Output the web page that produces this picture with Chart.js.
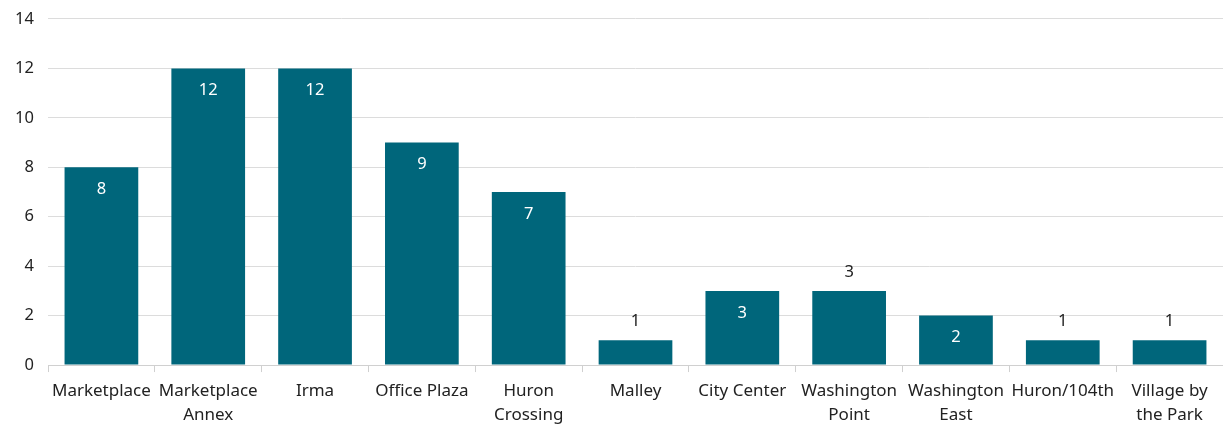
<!DOCTYPE html>
<html>
<head>
<meta charset="utf-8">
<script src="https://cdn.jsdelivr.net/npm/chart.js@4"></script>
<style>
html,body{margin:0;padding:0;background:#fff;}
#wrap{width:1223px;height:427px;}
</style>
</head>
<body>
<div id="wrap"><canvas id="c"></canvas></div>
<script>
const categories = [["Marketplace"],["Marketplace","Annex"],["Irma"],["Office Plaza"],["Huron","Crossing"],["Malley"],["City Center"],["Washington","Point"],["Washington","East"],["Huron/104th"],["Village by","the Park"]];
const values = [8,12,12,9,7,1,3,3,2,1,1];
const labelInside = [true,true,true,true,true,false,true,false,true,false,false];
const yTicks = [0,2,4,6,8,10,12,14];

const FONT = "'Noto Sans', sans-serif";
const barColor = '#00667B';

const labelPlugin = {
  id:'vals',
  afterDatasetsDraw(chart){
    const ctx = chart.ctx;
    const meta = chart.getDatasetMeta(0);
    ctx.save();
    ctx.font = "16.5px " + FONT;
    ctx.textAlign = 'center';
    ctx.textBaseline = 'middle';
    meta.data.forEach((bar,i)=>{
      const v = values[i];
      if(labelInside[i]){
        ctx.fillStyle = '#ffffff';
        ctx.fillText(String(v), bar.x, bar.y + 22);
      } else {
        ctx.fillStyle = '#222222';
        ctx.fillText(String(v), bar.x, bar.y - 19);
      }
    });
    ctx.restore();
  }
};

new Chart(document.getElementById('c'), {
  type:'bar',
  data:{
    labels: categories,
    datasets:[{data: values, backgroundColor: barColor, borderWidth:0, barPercentage:0.69, categoryPercentage:1.0}]
  },
  options:{
    responsive:true,
    maintainAspectRatio:false,
    animation:false,
    layout:{padding:{top:8,right:0,left:4,bottom:-7}},
    plugins:{legend:{display:false},tooltip:{enabled:false}},
    scales:{
      x:{
        grid:{display:true,drawOnChartArea:false,drawTicks:true,tickLength:7,color:'#d0d0d0',offset:true},
        border:{display:true,color:'#d0d0d0',width:1},
        ticks:{color:'#222222',font:{family:FONT,size:17,lineHeight:1.41},padding:7,maxRotation:0,autoSkip:false}
      },
      y:{
        min:0,max:14,
        afterBuildTicks(axis){ axis.ticks = yTicks.map(v=>({value:v})); },
        afterFit(axis){ axis.width = 44; },
        grid:{color:'#dcdcdc',drawTicks:false,lineWidth:1},
        border:{display:false},
        ticks:{color:'#222222',font:{family:FONT,size:16.5,lineHeight:0.6},padding:14}
      }
    }
  },
  plugins:[labelPlugin]
});
</script>
</body>
</html>
